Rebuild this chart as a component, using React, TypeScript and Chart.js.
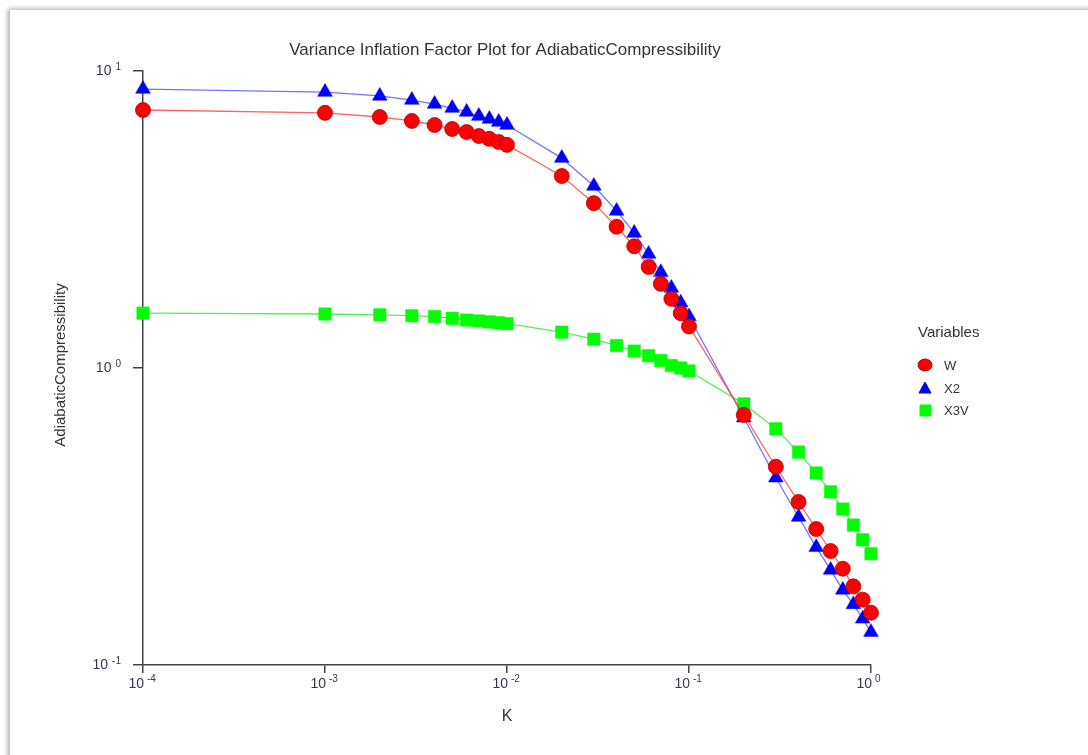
import React, { useEffect, useRef } from "react";
import { Chart, registerables } from "chart.js";

Chart.register(...registerables);

const kValues = [0.0001, 0.001, 0.002, 0.003, 0.004, 0.005, 0.006, 0.007, 0.008, 0.009, 0.01, 0.02, 0.03, 0.04, 0.05, 0.06, 0.07, 0.08, 0.09, 0.1, 0.2, 0.3, 0.4, 0.5, 0.6, 0.7, 0.8, 0.9, 1.0];

const wValues = [7.39, 7.23, 7.0, 6.79, 6.58, 6.38, 6.23, 6.04, 5.91, 5.77, 5.64, 4.43, 3.59, 2.99, 2.57, 2.19, 1.92, 1.71, 1.53, 1.38, 0.695, 0.465, 0.354, 0.287, 0.242, 0.211, 0.184, 0.166, 0.150];

const x2Values = [8.69, 8.49, 8.24, 7.98, 7.74, 7.5, 7.28, 7.05, 6.89, 6.73, 6.58, 5.09, 4.1, 3.38, 2.85, 2.42, 2.1, 1.86, 1.66, 1.49, 0.68, 0.427, 0.315, 0.249, 0.209, 0.179, 0.16, 0.143, 0.129];

const x3vValues = [1.53, 1.52, 1.51, 1.5, 1.49, 1.47, 1.45, 1.44, 1.43, 1.42, 1.41, 1.32, 1.25, 1.19, 1.14, 1.1, 1.06, 1.02, 1.0, 0.977, 0.757, 0.624, 0.521, 0.443, 0.383, 0.335, 0.296, 0.264, 0.237];

const xTickExps = [-4, -3, -2, -1, 0];
const yTickExps = [-1, 0, 1];

const seriesNames = ["W", "X2", "X3V"];
const titleText = "Variance Inflation Factor Plot for AdiabaticCompressibility";
const xTitle = "K";
const yTitle = "AdiabaticCompressibility";
const legendTitle = "Variables";

const FONT = "'Liberation Sans', Arial, sans-serif";
const TEXT = "#333333";

const toPoints = (ys: number[]) => kValues.map((k, i) => ({ x: k, y: ys[i] }));

const overlayPlugin = {
  id: "overlay",
  afterDraw(chart: any) {
    const ctx = chart.ctx as CanvasRenderingContext2D;
    const xs = chart.scales.x;
    const ys = chart.scales.y;
    ctx.save();
    ctx.fillStyle = TEXT;
    // title
    ctx.font = `17px ${FONT}`;
    ctx.textAlign = "center";
    ctx.textBaseline = "middle";
    ctx.fillText(titleText, 505, 50);
    // x title
    ctx.font = `16px ${FONT}`;
    ctx.fillText(xTitle, 507, 717);
    // y title
    ctx.save();
    ctx.translate(61, 365);
    ctx.rotate(-Math.PI / 2);
    ctx.font = `15px ${FONT}`;
    ctx.fillText(yTitle, 0, 0);
    ctx.restore();

    // x tick labels
    ctx.fillStyle = "#3a3550";
    xTickExps.forEach((e) => {
      const px = xs.getPixelForValue(Math.pow(10, e));
      ctx.font = `14px ${FONT}`;
      ctx.textAlign = "right";
      ctx.textBaseline = "middle";
      ctx.fillText("10", px + 1, 684);
      ctx.font = `10px ${FONT}`;
      ctx.textAlign = "left";
      ctx.fillText(String(e), px + 4, 679);
    });
    // y tick labels
    yTickExps.forEach((e) => {
      const py = ys.getPixelForValue(Math.pow(10, e));
      const expStr = String(e);
      ctx.font = `10px ${FONT}`;
      const ew = ctx.measureText(expStr).width;
      ctx.textAlign = "left";
      ctx.textBaseline = "middle";
      ctx.fillText(expStr, 121 - ew, py - 4);
      ctx.font = `14px ${FONT}`;
      ctx.textAlign = "right";
      ctx.fillText("10", 121 - ew - 4, py);
    });

    // legend
    ctx.fillStyle = TEXT;
    ctx.font = `15px ${FONT}`;
    ctx.textAlign = "left";
    ctx.textBaseline = "middle";
    ctx.fillText(legendTitle, 918, 333);
    ctx.font = `13px ${FONT}`;
    const rows = [365, 388, 410];
    const ds = chart.data.datasets;
    rows.forEach((ry, i) => {
      const d = ds[i];
      ctx.save();
      ctx.fillStyle = d.pointBackgroundColor;
      ctx.strokeStyle = d.pointBorderColor;
      ctx.lineWidth = 1;
      ctx.beginPath();
      if (i === 0) {
        ctx.ellipse(925, ry, 7, 6, 0, 0, Math.PI * 2);
      } else if (i === 1) {
        ctx.moveTo(925, ry - 6);
        ctx.lineTo(931, ry + 5);
        ctx.lineTo(919, ry + 5);
        ctx.closePath();
      } else {
        ctx.rect(920, ry - 5, 11, 11);
      }
      ctx.fill();
      ctx.stroke();
      ctx.restore();
      ctx.fillStyle = TEXT;
      ctx.fillText(seriesNames[i], 944, ry + 1);
    });
    ctx.restore();
  },
};

export default function App() {
  const ref = useRef<HTMLCanvasElement | null>(null);

  useEffect(() => {
    document.body.style.margin = "0";
    document.body.style.overflow = "hidden";
    const canvas = ref.current;
    if (!canvas) return;
    const chart = new Chart(canvas, {
      type: "line",
      data: {
        datasets: [
          {
            label: seriesNames[0],
            data: toPoints(wValues),
            borderColor: "rgba(255,60,60,0.8)",
            borderWidth: 1.3,
            pointStyle: "circle",
            pointRadius: 7.5,
            pointBackgroundColor: "#ff0000",
            pointBorderColor: "#b00000",
            pointBorderWidth: 0.8,
            tension: 0,
            clip: false,
          },
          {
            label: seriesNames[1],
            data: toPoints(x2Values),
            borderColor: "rgba(80,80,255,0.8)",
            borderWidth: 1.3,
            pointStyle: "triangle",
            pointRadius: 8.5,
            pointBackgroundColor: "#0000ff",
            pointBorderColor: "#0000ff",
            pointBorderWidth: 0.5,
            tension: 0,
            clip: false,
          },
          {
            label: seriesNames[2],
            data: toPoints(x3vValues),
            borderColor: "rgba(60,235,60,0.85)",
            borderWidth: 1.3,
            pointStyle: "rect",
            pointRadius: 8.8,
            pointBackgroundColor: "#00ff00",
            pointBorderColor: "#00ff00",
            pointBorderWidth: 0.5,
            tension: 0,
            clip: false,
          },
        ],
      },
      options: {
        animation: false,
        responsive: false,
        maintainAspectRatio: false,
        devicePixelRatio: 1,
        layout: { padding: { left: 143, right: 217, top: 71, bottom: 90 } },
        plugins: {
          legend: { display: false },
          title: { display: false },
          tooltip: { enabled: false },
        },
        scales: {
          x: {
            type: "logarithmic",
            min: 1e-4,
            max: 1,
            afterFit: (s: any) => {
              s.height = 0;
            },
            afterBuildTicks: (s: any) => {
              s.ticks = xTickExps.map((e) => ({ value: Math.pow(10, e), major: true }));
            },
            ticks: { display: false },
            grid: {
              drawOnChartArea: false,
              drawTicks: true,
              tickLength: 8,
              color: "#444444",
              lineWidth: 1.5,
            },
            border: { display: true, color: "#444444", width: 1.5 },
          },
          y: {
            type: "logarithmic",
            min: 0.1,
            max: 10,
            afterFit: (s: any) => {
              s.width = 0;
            },
            afterBuildTicks: (s: any) => {
              s.ticks = yTickExps.map((e) => ({ value: Math.pow(10, e), major: true }));
            },
            ticks: { display: false },
            grid: {
              drawOnChartArea: false,
              drawTicks: true,
              tickLength: 10,
              color: "#444444",
              lineWidth: 1.5,
            },
            border: { display: true, color: "#444444", width: 1.5 },
          },
        },
      },
      plugins: [overlayPlugin],
    });
    return () => chart.destroy();
  }, []);

  return (
    <div
      style={{
        position: "fixed",
        left: 0,
        top: 0,
        width: 1088,
        height: 755,
        overflow: "hidden",
        background: "#ffffff",
      }}
    >
      <div
        style={{
          position: "absolute",
          left: 10,
          top: 10,
          width: 1200,
          height: 900,
          boxShadow: "-2px -1px 5px rgba(0,0,0,0.35)",
          background: "#ffffff",
        }}
      />
      <canvas
        ref={ref}
        width={1088}
        height={755}
        style={{ position: "absolute", left: 0, top: 0, width: 1088, height: 755 }}
      />
    </div>
  );
}
